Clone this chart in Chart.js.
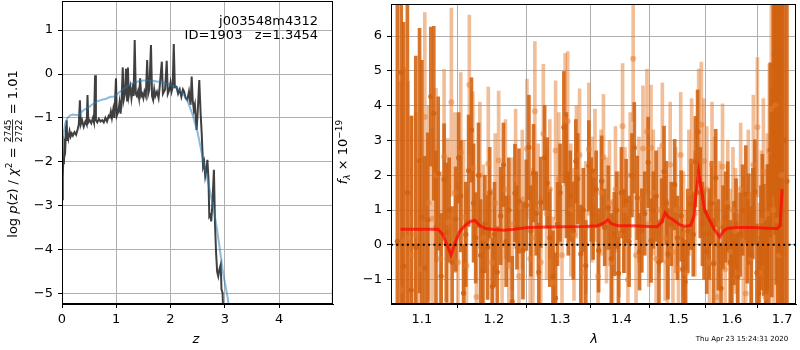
<!DOCTYPE html>
<html>
<head>
<meta charset="utf-8">
<script src="https://cdn.jsdelivr.net/npm/chart.js@4.4.1/dist/chart.umd.min.js"></script>
<style>
  body { margin: 0; background: #fff; }
  #wrap { position: relative; width: 800px; height: 350px; }
  #pzChart { position: absolute; left: 0; top: 0; }
  #specChart { position: absolute; left: 334px; top: 0; }
</style>
</head>
<body>
<div id="wrap">
  <canvas id="pzChart" width="334" height="350"></canvas>
  <canvas id="specChart" width="466" height="350"></canvas>
</div>
<script>
// --- left panel: log p(z) ---
const pzZ = [0.000,0.010,0.018,0.025,0.035,0.045,0.060,0.075,0.086,0.095,0.110,0.120,0.140,0.160,0.180,0.200,0.230,0.260,0.290,0.310,
  0.330,0.345,0.370,0.400,0.430,0.455,0.470,0.485,0.510,0.540,0.570,0.590,0.610,0.625,0.650,0.680,0.710,0.740,0.770,0.800,
  0.830,0.860,0.880,0.900,0.920,0.945,0.965,0.995,1.010,1.040,1.060,1.080,1.100,1.120,1.135,1.160,1.180,1.200,1.215,1.230,
  1.260,1.280,1.300,1.320,1.340,1.360,1.380,1.400,1.420,1.440,1.460,1.480,1.500,1.520,1.545,1.570,1.590,1.610,1.640,1.660,
  1.680,1.700,1.720,1.750,1.780,1.800,1.840,1.860,1.880,1.900,1.930,1.950,1.980,2.000,2.020,2.040,2.060,2.080,2.110,2.140,
  2.170,2.200,2.230,2.250,2.280,2.310,2.340,2.370,2.390,2.410,2.430,2.450,2.480,2.500,2.530,2.555,2.575,2.600,2.620,2.640,
  2.660,2.680,2.700,2.715,2.735,2.750,2.770,2.800,2.820,2.840,2.860,2.880,2.900,2.925,2.940,2.960,2.975];
const pzLog = [-2.85,-2.30,-2.35,-1.90,-2.05,-1.60,-1.70,-1.20,-1.05,-1.50,-1.35,-1.45,-1.30,-1.42,-1.35,-1.40,-1.32,-1.38,-1.25,-1.15,
  -0.60,-1.15,-1.05,-1.20,-1.08,-1.15,-0.48,-1.10,-1.05,-1.12,-1.00,-1.10,-0.03,-1.05,-1.10,-1.02,-1.08,-1.05,-1.10,-1.00,
  -1.08,-0.95,-0.98,-0.85,-1.00,-0.80,-1.00,-0.10,-0.95,-0.85,-0.65,-0.90,-0.55,0.15,-0.60,-0.45,0.12,-0.60,0.15,-0.50,
  -0.30,-0.55,-0.35,-0.50,0.77,-0.45,-0.50,-0.40,-0.55,-0.10,-0.50,-0.45,-0.55,-0.40,-0.50,0.32,-0.45,-0.35,0.66,-0.50,
  -0.59,-0.35,-0.50,-0.40,-0.55,-0.30,0.28,-0.45,-0.40,-0.35,0.30,-0.45,-0.35,-0.20,-0.40,-0.30,0.68,-0.30,-0.29,-0.45,
  -0.35,-0.52,-0.35,-0.40,-0.55,-0.59,-0.40,-0.70,-0.06,-0.60,-0.82,-0.70,-1.27,-0.90,-0.14,-0.90,-1.35,-2.10,-2.00,-2.33,
  -2.20,-1.95,-2.40,-3.24,-3.20,-3.35,-3.00,-2.18,-3.40,-4.07,-4.50,-4.60,-4.45,-4.34,-4.90,-4.98,-5.60];
const priorZ = [0.000,0.030,0.060,0.100,0.150,0.200,0.250,0.300,0.350,0.400,0.450,0.500,0.550,0.600,0.650,0.700,0.750,0.800,0.850,0.900,
  0.950,1.000,1.050,1.100,1.200,1.300,1.400,1.500,1.600,1.700,1.800,1.900,2.000,2.100,2.200,2.300,2.400,2.500,2.600,2.700,
  2.800,2.850,2.900,2.970,3.050,3.150,4.960,4.978,4.990];
const priorLog = [-1.68,-1.35,-1.12,-1.00,-0.94,-0.92,-0.93,-0.93,-0.88,-0.82,-0.78,-0.75,-0.70,-0.66,-0.62,-0.60,-0.58,-0.57,-0.54,-0.52,
  -0.52,-0.48,-0.42,-0.37,-0.28,-0.21,-0.17,-0.15,-0.15,-0.16,-0.18,-0.20,-0.25,-0.30,-0.40,-0.57,-0.90,-1.33,-1.95,-2.50,
  -3.10,-3.47,-3.90,-4.53,-5.06,-6.00,-6.00,-5.25,-4.90];
const pzTicksX = [0, 1, 2, 3, 4];
const pzTicksY = [-5, -4, -3, -2, -1, 0, 1];

// --- right panel: spectrum ---
const darkWave = [1.068,1.073,1.076,1.081,1.086,1.092,1.097,1.100,1.104,1.108,1.112,1.116,1.119,1.122,1.126,1.130,1.133,1.137,1.141,1.146,
  1.150,1.153,1.157,1.160,1.164,1.168,1.171,1.174,1.178,1.181,1.184,1.187,1.191,1.194,1.198,1.201,1.205,1.210,1.214,1.218,
  1.222,1.227,1.231,1.234,1.237,1.243,1.248,1.252,1.255,1.259,1.263,1.267,1.270,1.276,1.280,1.284,1.289,1.293,1.296,1.300,
  1.306,1.310,1.313,1.316,1.321,1.325,1.328,1.333,1.337,1.341,1.346,1.350,1.353,1.358,1.362,1.367,1.372,1.378,1.383,1.388,
  1.392,1.395,1.400,1.404,1.408,1.413,1.418,1.422,1.427,1.431,1.435,1.440,1.446,1.451,1.455,1.460,1.465,1.470,1.474,1.478,
  1.481,1.487,1.493,1.498,1.505,1.508,1.512,1.517,1.523,1.527,1.531,1.535,1.540,1.544,1.547,1.552,1.557,1.561,1.565,1.569,
  1.574,1.579,1.583,1.588,1.592,1.597,1.600,1.604,1.608,1.611,1.616,1.621,1.627,1.630,1.633,1.638,1.641,1.645,1.649,1.653,
  1.657,1.660,1.663,1.667,1.670,1.673,1.676,1.679,1.682,1.684,1.686,1.688,1.691,1.694,1.697,1.700,1.705,1.710];
const darkFlux = [0.10,4.95,-0.61,1.50,-1.30,-0.08,2.42,0.80,-0.66,0.72,4.26,3.78,0.50,2.05,-0.90,1.88,0.35,1.00,-0.50,0.74,
  2.50,1.40,-1.39,0.30,2.13,3.30,1.20,0.20,2.00,-0.30,-0.75,0.60,-0.07,1.50,-1.20,0.30,-0.78,0.83,2.30,0.10,
  1.00,-1.63,1.49,0.50,1.26,-0.16,1.14,2.80,0.40,2.06,0.90,-0.78,1.22,2.51,1.78,0.20,-0.90,-1.53,0.60,1.50,
  3.38,2.00,0.90,1.40,0.41,2.40,1.90,-0.26,1.00,-0.60,2.27,1.30,0.88,1.60,-0.16,1.83,0.50,1.07,-0.40,0.31,
  1.00,-0.82,1.50,0.40,1.26,0.10,2.00,2.79,1.35,-0.20,0.41,0.90,2.37,0.12,1.00,1.40,-0.50,0.70,2.11,1.20,
  -0.26,0.60,1.73,0.20,0.83,-0.70,-1.06,0.40,1.16,0.30,2.39,3.25,1.50,0.60,0.31,-0.20,0.31,1.20,-0.54,1.92,
  0.00,-1.25,0.50,0.80,1.09,-0.50,-0.80,0.05,0.60,-0.92,0.30,1.00,1.45,0.20,0.74,-0.30,0.90,1.52,-0.80,-1.39,
  0.20,1.00,0.14,-1.00,0.50,0.31,2.73,1.50,5.14,5.47,4.80,3.86,3.90,6.70,5.20,-0.24,3.00,1.83];
const darkErr = [9.0,8.0,7.0,6.0,5.0,5.5,3.8,4.5,3.2,2.5,2.0,2.5,2.2,2.2,1.8,1.6,2.0,1.5,1.6,1.5,
  1.3,1.6,1.4,1.5,1.6,1.5,1.7,1.3,1.5,1.6,1.2,1.4,1.5,1.3,1.4,1.5,1.3,1.4,1.2,1.3,
  1.5,1.3,1.4,1.2,1.5,1.4,1.3,1.5,1.3,1.4,1.2,1.4,1.3,1.5,1.3,1.4,1.3,1.3,1.2,1.4,
  1.6,1.8,1.2,1.3,1.4,1.2,1.3,1.4,1.2,1.3,1.3,1.2,1.3,1.1,1.2,1.3,1.1,1.2,1.3,1.2,
  1.1,1.2,1.3,1.2,1.2,1.3,1.2,1.3,1.2,1.1,1.2,1.2,1.3,1.2,1.1,1.3,1.2,1.2,1.3,1.2,
  1.3,1.2,1.3,1.2,1.3,1.2,1.2,1.2,1.3,1.2,1.3,1.2,1.3,1.2,1.3,1.2,1.3,1.2,1.3,1.4,
  1.3,1.3,1.2,1.3,1.3,1.2,1.3,1.2,1.3,1.3,1.2,1.3,1.4,1.3,1.3,1.4,1.3,1.5,1.4,1.5,
  1.5,1.6,1.6,1.7,1.8,2.0,2.5,3.0,3.5,4.0,4.5,5.0,6.0,7.0,8.0,8.0,9.0,10.0];
const lightWave = [1.072,1.077,1.082,1.087,1.092,1.097,1.104,1.109,1.114,1.119,1.125,1.130,1.135,1.140,1.145,1.149,1.153,1.157,1.161,1.165,
  1.170,1.175,1.180,1.185,1.192,1.197,1.202,1.207,1.212,1.217,1.222,1.227,1.232,1.237,1.242,1.249,1.254,1.258,1.261,1.266,
  1.270,1.274,1.279,1.284,1.289,1.293,1.298,1.303,1.308,1.312,1.317,1.322,1.326,1.331,1.336,1.341,1.346,1.351,1.356,1.361,
  1.366,1.370,1.375,1.380,1.385,1.390,1.396,1.402,1.406,1.411,1.415,1.420,1.425,1.430,1.437,1.444,1.447,1.451,1.455,1.460,
  1.465,1.471,1.476,1.480,1.485,1.490,1.495,1.500,1.504,1.509,1.514,1.519,1.524,1.530,1.537,1.542,1.547,1.552,1.557,1.562,
  1.567,1.572,1.577,1.582,1.587,1.592,1.597,1.602,1.607,1.612,1.617,1.622,1.627,1.632,1.637,1.642,1.650,1.654,1.658,1.662,
  1.666,1.670,1.674,1.678,1.682,1.686,1.690,1.694,1.699];
const lightFlux = [-1.30,0.10,0.20,-0.30,0.30,-0.70,3.67,1.20,0.75,2.00,-0.40,2.54,0.65,4.10,1.50,-0.50,2.65,0.80,-0.60,4.60,
  2.20,-1.50,2.00,0.20,2.33,-0.50,1.20,2.42,0.00,1.60,-0.60,0.60,1.90,-0.90,1.30,2.76,-0.40,0.20,3.84,1.00,
  -0.50,3.19,0.90,1.60,-1.10,2.71,1.90,-0.30,3.60,3.55,1.00,0.30,2.10,2.58,-0.80,0.50,2.75,1.30,2.00,-0.90,
  1.50,2.52,0.70,1.20,-0.50,1.60,0.30,3.41,1.00,-1.00,2.00,5.35,-0.30,1.30,2.77,3.25,0.60,2.79,1.50,-0.40,
  1.00,2.85,0.20,-0.50,2.30,-0.20,1.00,-0.70,2.58,0.30,-0.80,1.50,2.40,0.90,3.25,3.45,2.40,1.60,-0.50,2.30,
  1.30,-1.50,0.60,2.25,-0.70,1.20,-0.20,1.00,0.40,-0.90,1.60,0.10,-1.40,1.40,-0.40,2.30,3.38,-0.80,0.70,2.10,
  -1.50,0.90,2.70,3.90,1.00,4.00,0.70,-0.30,2.00];
const lightErr = [6.0,5.0,4.5,4.0,3.5,3.0,3.0,2.8,2.6,2.5,2.5,2.5,2.4,2.7,2.3,2.3,2.3,2.2,2.2,2.0,
  2.2,2.2,2.1,2.1,2.2,2.1,2.0,2.0,2.0,2.0,2.0,1.9,2.0,1.9,2.0,2.0,1.9,2.0,2.0,1.9,
  1.9,2.0,1.9,2.0,1.9,2.0,1.9,2.0,1.9,2.0,1.9,1.9,1.9,1.9,1.9,1.9,1.9,1.8,1.9,1.8,
  1.8,1.8,1.8,1.8,1.8,1.8,1.8,1.8,1.8,1.8,1.8,1.8,1.8,1.8,1.8,1.8,1.8,1.8,1.8,1.8,
  1.8,1.8,1.8,1.8,1.8,1.8,1.8,1.8,1.8,1.8,1.8,1.8,1.8,1.8,1.8,1.8,1.8,1.8,1.8,1.8,
  1.8,1.8,1.8,1.8,1.8,1.8,1.8,1.8,1.8,1.8,1.9,1.9,1.9,1.9,1.9,2.0,2.0,2.0,2.0,2.1,
  2.2,2.3,2.5,3.0,3.5,4.0,5.0,6.0,7.0];
const modelWave = [1.072,1.090,1.110,1.122,1.128,1.134,1.1395,1.145,1.152,1.160,1.167,1.173,1.180,1.188,1.200,1.215,1.230,1.250,1.280,1.310,
  1.340,1.360,1.370,1.377,1.384,1.395,1.420,1.445,1.462,1.470,1.476,1.482,1.492,1.502,1.512,1.522,1.528,1.533,1.537,1.542,
  1.548,1.556,1.566,1.5766,1.584,1.592,1.610,1.640,1.670,1.690,1.696,1.700];
const modelFlux = [0.45,0.45,0.45,0.44,0.30,0.00,-0.30,0.05,0.40,0.58,0.68,0.70,0.55,0.47,0.44,0.42,0.45,0.50,0.51,0.52,
  0.53,0.55,0.62,0.72,0.60,0.55,0.55,0.53,0.52,0.65,0.92,0.80,0.70,0.58,0.53,0.56,0.80,1.60,2.10,1.60,
  1.00,0.75,0.45,0.23,0.40,0.48,0.50,0.50,0.48,0.47,0.55,1.60];
const specTicksX = [1.1, 1.2, 1.3, 1.4, 1.5, 1.6, 1.7];
const specTicksY = [-1, 0, 1, 2, 3, 4, 5, 6];
const lamMin = 1.0598, lamMax = 1.7288;

const darkColor = 'rgba(210,98,16,0.88)';
const lightColor = 'rgba(230,125,50,0.5)';

function minus(v) { return (v < 0 ? '\u2212' : '') + Math.abs(v); }

function richText(ctx, parts, x, y, angle) {
  ctx.save();
  ctx.translate(x, y);
  ctx.rotate(angle);
  ctx.fillStyle = '#000';
  ctx.textBaseline = 'alphabetic';
  let total = 0;
  parts.forEach(p => {
    ctx.font = p.f;
    p.w = p.num ? Math.max(ctx.measureText(p.num).width, ctx.measureText(p.den).width) + 2
                : ctx.measureText(p.t).width;
    total += p.w;
  });
  let cx = -total / 2;
  parts.forEach(p => {
    ctx.font = p.f;
    if (p.num) {
      ctx.textAlign = 'center';
      ctx.fillText(p.num, cx + p.w / 2, -6);
      ctx.fillText(p.den, cx + p.w / 2, 4.5);
      ctx.fillRect(cx + 1, -4.8, p.w - 2, 0.8);
    } else {
      ctx.textAlign = 'left';
      ctx.fillText(p.t, cx, p.dy || 0);
    }
    cx += p.w;
  });
  ctx.restore();
}

// drop the label overflow padding so the plot box sits where we size it
function fixBox(size, horizontal) {
  return s => {
    if (horizontal) s.height = size; else s.width = size;
    s.paddingTop = 0; s.paddingBottom = 0; s.paddingLeft = 0; s.paddingRight = 0;
  };
}

const frame = {
  id: 'frame',
  afterDraw(chart) {
    const a = chart.chartArea, ctx = chart.ctx;
    ctx.save();
    ctx.strokeStyle = '#000';
    ctx.lineWidth = 1;
    ctx.strokeRect(a.left + 0.5, a.top + 0.5, a.right - a.left - 1, a.bottom - a.top - 1);
    ctx.restore();
  }
};

const N = '13px "DejaVu Sans"', I = 'italic 13px "DejaVu Sans"', S = '9px "DejaVu Sans"', SI = 'italic 9px "DejaVu Sans"';

const pzText = {
  id: 'pzText',
  afterDraw(chart) {
    const ctx = chart.ctx;
    ctx.save();
    ctx.fillStyle = '#000';
    ctx.font = N;
    ctx.textAlign = 'right';
    ctx.textBaseline = 'alphabetic';
    ctx.fillText('j003548m4312', 318, 25);
    ctx.fillText('ID=1903   z=1.3454', 318, 39);
    ctx.textAlign = 'center';
    ctx.textBaseline = 'middle';
    ctx.font = I;
    ctx.fillText('z', 196, 340);
    ctx.restore();
    richText(ctx, [
      {t: 'log ', f: N}, {t: 'p', f: I}, {t: '(', f: N}, {t: 'z', f: I}, {t: ')', f: N},
      {t: ' / ', f: N}, {t: '\u03c7', f: I}, {t: '2', f: S, dy: -5}, {t: ' = ', f: N},
      {num: '2745', den: '2722', f: S}, {t: ' = 1.01', f: N}
    ], 17, 154, -Math.PI / 2);
  }
};

const specText = {
  id: 'specText',
  afterDraw(chart) {
    const ctx = chart.ctx;
    ctx.save();
    ctx.fillStyle = '#000';
    ctx.textAlign = 'center';
    ctx.textBaseline = 'middle';
    ctx.font = I;
    ctx.fillText('\u03bb', 260, 340);
    ctx.font = '7px "DejaVu Sans"';
    ctx.fillText('Thu Apr 23 15:24:31 2020', 408, 339);
    ctx.restore();
    richText(ctx, [
      {t: 'f', f: I}, {t: '\u03bb', f: SI, dy: 3}, {t: ' \u00d7 10', f: N}, {t: '\u221219', f: S, dy: -5}
    ], 13, 152, -Math.PI / 2);
  }
};

const gridOpts = { color: '#b0b0b0', lineWidth: 1, tickColor: '#000', tickLength: 4 };
const tickFont = { family: 'DejaVu Sans', size: 13 };

new Chart(document.getElementById('pzChart'), {
  type: 'line',
  data: {
    datasets: [
      { data: priorZ.map((z, i) => ({x: z, y: priorLog[i]})), borderColor: 'rgba(31,119,180,0.5)', borderWidth: 2,
        pointRadius: 0, tension: 0 },
      { data: pzZ.map((z, i) => ({x: z, y: pzLog[i]})), borderColor: 'rgba(30,30,30,0.85)', borderWidth: 2,
        pointRadius: 0, tension: 0 }
    ]
  },
  options: {
    responsive: false, animation: false, devicePixelRatio: 1,
    layout: { padding: { left: 0, right: 1, top: 1, bottom: 0 } },
    plugins: { legend: { display: false }, tooltip: { enabled: false } },
    scales: {
      x: {
        type: 'linear', min: 0, max: 4.995,
        afterBuildTicks: s => { s.ticks = pzTicksX.map(v => ({value: v})); },
        afterFit: fixBox(46, true),
        ticks: { color: '#000', font: tickFont, padding: 4, maxRotation: 0, callback: v => minus(v) },
        grid: gridOpts, border: { color: '#000' }
      },
      y: {
        type: 'linear', min: -5.23, max: 1.66,
        afterBuildTicks: s => { s.ticks = pzTicksY.map(v => ({value: v})); },
        afterFit: fixBox(62, false),
        ticks: { color: '#000', font: tickFont, padding: 5, callback: v => minus(v) },
        grid: gridOpts, border: { color: '#000' }
      }
    }
  },
  plugins: [frame, pzText]
});

new Chart(document.getElementById('specChart'), {
  type: 'scatter',
  data: {
    datasets: [
      { type: 'line', data: [{x: lamMin, y: 0}, {x: lamMax, y: 0}], borderColor: '#000', borderWidth: 2,
        borderDash: [2, 3.3], pointRadius: 0, showLine: true },
      { type: 'line', data: modelWave.map((w, i) => ({x: w, y: modelFlux[i]})), borderColor: 'rgba(255,0,0,0.7)',
        borderWidth: 3, pointRadius: 0, showLine: true, tension: 0 },
      { data: darkWave.map((w, i) => ({x: w, y: darkFlux[i]})), backgroundColor: darkColor, borderWidth: 0, pointRadius: 2.6 },
      { data: lightWave.map((w, i) => ({x: w, y: lightFlux[i]})), backgroundColor: lightColor, borderWidth: 0, pointRadius: 3 },
      { type: 'bar', data: darkWave.map((w, i) => ({x: w, y: [darkFlux[i] - darkErr[i], darkFlux[i] + darkErr[i]]})),
        backgroundColor: darkColor, barThickness: 3, grouped: false, borderWidth: 0 },
      { type: 'bar', data: lightWave.map((w, i) => ({x: w, y: [lightFlux[i] - lightErr[i], lightFlux[i] + lightErr[i]]})),
        backgroundColor: lightColor, barThickness: 3, grouped: false, borderWidth: 0 }
    ]
  },
  options: {
    responsive: false, animation: false, devicePixelRatio: 1,
    layout: { padding: { left: 0, right: 1, top: 1, bottom: 0 } },
    plugins: { legend: { display: false }, tooltip: { enabled: false } },
    scales: {
      x: {
        type: 'logarithmic', min: lamMin, max: lamMax, offset: false,
        afterBuildTicks: s => { s.ticks = specTicksX.map(v => ({value: v})); },
        afterFit: fixBox(46, true),
        ticks: { color: '#000', font: tickFont, padding: 4, maxRotation: 0, autoSkip: false, callback: v => v.toFixed(1) },
        grid: gridOpts, border: { color: '#000' }
      },
      y: {
        type: 'linear', min: -1.70, max: 6.92,
        afterBuildTicks: s => { s.ticks = specTicksY.map(v => ({value: v})); },
        afterFit: fixBox(57, false),
        ticks: { color: '#000', font: tickFont, padding: 5, callback: v => minus(v) },
        grid: gridOpts, border: { color: '#000' }
      }
    }
  },
  plugins: [frame, specText]
});
</script>
</body>
</html>
